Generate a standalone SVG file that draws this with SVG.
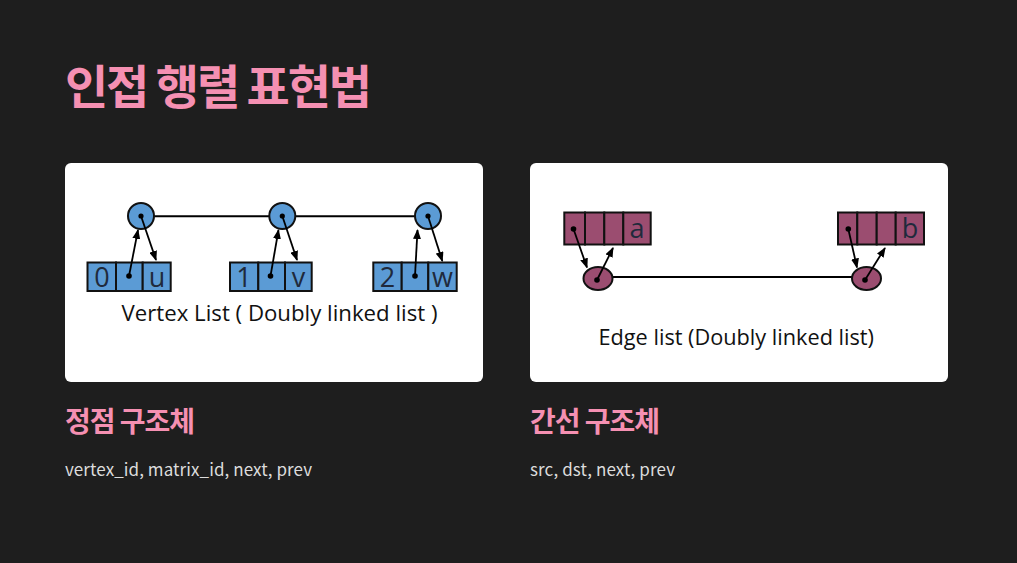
<svg xmlns="http://www.w3.org/2000/svg" width="1017" height="563" viewBox="0 0 1017 563">
<defs>
<marker id="ah" markerUnits="userSpaceOnUse" markerWidth="10" markerHeight="8" viewBox="0 0 10 8" refX="9" refY="4" orient="auto">
<path d="M0,0 L10,4 L0,8 Z" fill="#000"/>
</marker>
<style>
.title{font-family:"Noto Sans CJK KR","Noto Sans",sans-serif;font-weight:700;fill:#f590b2}
.body{font-family:"Noto Sans CJK KR","Noto Sans",sans-serif;font-size:17px;fill:#dcdcdc}
.card{fill:#fff}
.v{fill:#5b9bd5;stroke:#111;stroke-width:2}
.e{fill:#9b4d70;stroke:#111;stroke-width:2}
.ln{stroke:#000;stroke-width:2;fill:none}
.arr{stroke:#000;stroke-width:1.8;fill:none;marker-end:url(#ah)}
.dot{fill:#000}
.cell{font-family:"Open Sans","Noto Sans",sans-serif;font-size:27px;fill:#1f2a3c;text-anchor:middle}
.cap{font-family:"Open Sans","Noto Sans",sans-serif;font-size:21px;fill:#111}
</style>
</defs>
<rect width="1017" height="563" fill="#1e1e1e"/>
<text class="title" x="65" y="104" font-size="47" textLength="307" lengthAdjust="spacing">인접 행렬 표현법</text>

<rect class="card" x="65" y="163" width="418" height="219" rx="6"/>
<rect class="card" x="530" y="163" width="418" height="219" rx="6"/>

<g id="connectors">
<line class="ln" x1="154" y1="216.3" x2="270" y2="216.3"/>
<line class="ln" x1="295" y1="216.3" x2="415" y2="216.3"/>
<line class="ln" x1="612.5" y1="277" x2="852" y2="277"/>
</g>

<g id="vertex0">
<circle class="v" cx="141" cy="216" r="13"/>
<rect class="v" x="87.5" y="262.5" width="28.5" height="28.5"/>
<rect class="v" x="116" y="262.5" width="26.7" height="28.5"/>
<rect class="v" x="142.7" y="262.5" width="28" height="28.5"/>
<text class="cell" x="102" y="287">0</text>
<text class="cell" x="157" y="287">u</text>
<circle class="dot" cx="141" cy="216" r="2.6"/>
<circle class="dot" cx="129" cy="276" r="2.8"/>
<line class="arr" x1="129" y1="276" x2="138" y2="230"/>
<line class="arr" x1="141" y1="216" x2="156" y2="260"/>
</g>

<g id="vertex1">
<circle class="v" cx="282.3" cy="216" r="13"/>
<rect class="v" x="230" y="262.5" width="28.3" height="28.5"/>
<rect class="v" x="258.3" y="262.5" width="26.7" height="28.5"/>
<rect class="v" x="285" y="262.5" width="26.7" height="28.5"/>
<text class="cell" x="244" y="287">1</text>
<text class="cell" x="298.5" y="287">v</text>
<circle class="dot" cx="282.3" cy="216" r="2.6"/>
<circle class="dot" cx="270.5" cy="276" r="2.8"/>
<line class="arr" x1="270.5" y1="276" x2="278.5" y2="230"/>
<line class="arr" x1="282.3" y1="216" x2="297" y2="260"/>
</g>

<g id="vertex2">
<circle class="v" cx="428" cy="216" r="13"/>
<rect class="v" x="373.3" y="262.5" width="28.4" height="28.5"/>
<rect class="v" x="401.7" y="262.5" width="26.6" height="28.5"/>
<rect class="v" x="428.3" y="262.5" width="28.4" height="28.5"/>
<text class="cell" x="387.5" y="287">2</text>
<text class="cell" x="442.5" y="287">w</text>
<circle class="dot" cx="428" cy="216" r="2.6"/>
<circle class="dot" cx="415" cy="276" r="2.8"/>
<line class="arr" x1="415" y1="276" x2="417.5" y2="230"/>
<line class="arr" x1="428" y1="216" x2="442.3" y2="261"/>
</g>

<text class="cap" x="121.5" y="321" textLength="316" lengthAdjust="spacingAndGlyphs">Vertex List ( Doubly linked list )</text>

<g id="edge-a">
<rect class="e" x="564.3" y="212.5" width="20.7" height="32"/>
<rect class="e" x="585" y="212.5" width="19.3" height="32"/>
<rect class="e" x="604.3" y="212.5" width="19" height="32"/>
<rect class="e" x="623.3" y="212.5" width="27.4" height="32"/>
<text class="cell" x="637" y="238">a</text>
<ellipse class="e" cx="598" cy="278.5" rx="14.5" ry="11.5"/>
<circle class="dot" cx="573.5" cy="229" r="2.8"/>
<circle class="dot" cx="597" cy="280" r="2.8"/>
<line class="arr" x1="573.5" y1="229" x2="587" y2="267.5"/>
<line class="arr" x1="597" y1="280" x2="613" y2="248"/>
</g>

<g id="edge-b">
<rect class="e" x="838" y="212.5" width="19.3" height="32"/>
<rect class="e" x="857.3" y="212.5" width="19.4" height="32"/>
<rect class="e" x="876.7" y="212.5" width="19" height="32"/>
<rect class="e" x="895.7" y="212.5" width="28.3" height="32"/>
<text class="cell" x="910" y="238">b</text>
<ellipse class="e" cx="866.5" cy="278.5" rx="14.5" ry="11.5"/>
<circle class="dot" cx="848.3" cy="229" r="2.8"/>
<circle class="dot" cx="865" cy="280" r="2.8"/>
<line class="arr" x1="848.3" y1="229" x2="857" y2="267.5"/>
<line class="arr" x1="865" y1="280" x2="885" y2="248"/>
</g>

<text class="cap" x="598.5" y="344.5" textLength="275.5" lengthAdjust="spacingAndGlyphs">Edge list (Doubly linked list)</text>

<text class="title" x="65" y="432" font-size="28" textLength="130" lengthAdjust="spacing">정점 구조체</text>
<text class="body" x="65" y="476" textLength="247" lengthAdjust="spacing">vertex_id, matrix_id, next, prev</text>
<text class="title" x="530" y="432" font-size="28" textLength="130" lengthAdjust="spacing">간선 구조체</text>
<text class="body" x="530" y="476" textLength="145" lengthAdjust="spacing">src, dst, next, prev</text>
</svg>
